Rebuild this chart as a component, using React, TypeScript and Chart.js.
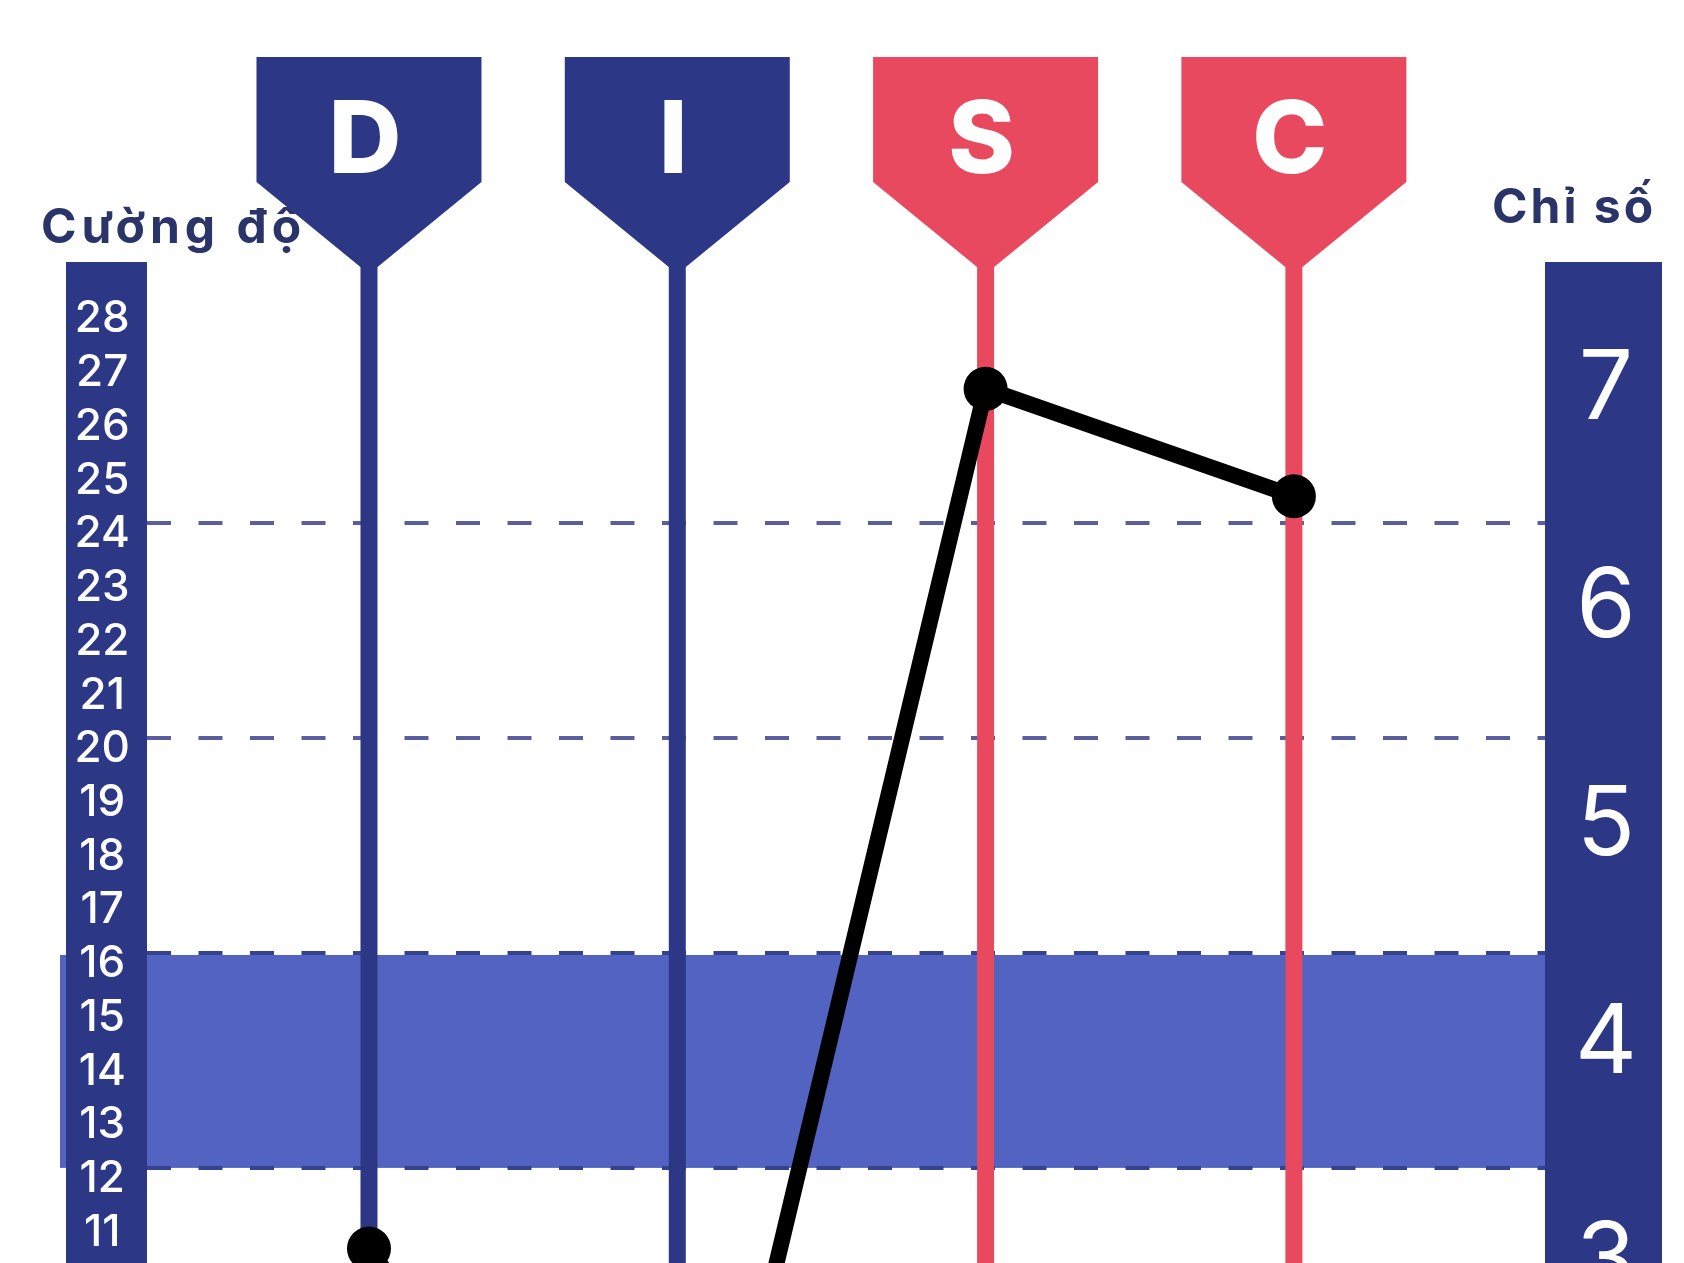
import React, { useEffect, useRef } from 'react';
import { Chart, registerables } from 'chart.js';

Chart.register(...registerables);

// ---------- data ----------
const categories = ['D', 'I', 'S', 'C'];
const intensityValues = [10.5, 2.5, 26.5, 24.5];
const categoryColors = ['#2c3886', '#2c3886', '#e9495f', '#e9495f'];
const leftTicks = [28, 27, 26, 25, 24, 23, 22, 21, 20, 19, 18, 17, 16, 15, 14, 13, 12, 11];
const rightTicks = [7, 6, 5, 4, 3];
const referenceLines = [24, 20];
const bandRange = [16, 12];
const leftTitle = 'Cường độ';
const rightTitle = 'Chỉ số';

// ---------- styles ----------
const NAVY = '#2c3886';
const BAND = '#5363c2';
const TITLE_COLOR = '#2a3468';
const REF_LINE_COLOR = '#5b5e9c';
const BAND_LINE_COLOR = '#34428f';
const FONT = 'Inter, "Open Sans", sans-serif';

const W = 1684;
const H = 1263;

const discPlugin = {
  id: 'discDecor',
  beforeDraw(chart: any) {
    const { ctx, chartArea } = chart;
    const yL = chart.scales.y;
    const yR = chart.scales.y2;
    ctx.save();
    const bt = yL.getPixelForValue(bandRange[0]);
    const bb = yL.getPixelForValue(bandRange[1]);
    ctx.fillStyle = BAND;
    ctx.fillRect(yL.left - 6, bt + 2, chartArea.right - (yL.left - 6), bb - bt - 2);
    ctx.fillStyle = NAVY;
    ctx.fillRect(yL.left, chartArea.top, yL.width, chartArea.bottom - chartArea.top);
    ctx.fillRect(yR.left, chartArea.top, yR.width, chartArea.bottom - chartArea.top);
    ctx.restore();
  },
  beforeDatasetsDraw(chart: any) {
    const { ctx, chartArea } = chart;
    const yL = chart.scales.y;
    const yR = chart.scales.y2;
    const x = chart.scales.x;
    ctx.save();
    // axis titles
    ctx.fillStyle = TITLE_COLOR;
    ctx.font = `700 48px ${FONT}`;
    ctx.textBaseline = 'alphabetic';
    ctx.textAlign = 'left';
    (ctx as any).letterSpacing = '5px';
    ctx.fillText(leftTitle, yL.left - 25, 243);
    (ctx as any).letterSpacing = '3px';
    ctx.textAlign = 'left';
    ctx.fillText(rightTitle, yR.right - 170, 223);
    (ctx as any).letterSpacing = '0px';

    const halfW = 112.5;
    const topY = 57;
    const shoulderY = 182;
    const apexY = 274;
    categories.forEach((cat, i) => {
      const cx = x.getPixelForValue(i);
      const color = categoryColors[i];
      // stem
      ctx.strokeStyle = color;
      ctx.lineWidth = 17;
      ctx.lineCap = 'butt';
      ctx.beginPath();
      ctx.moveTo(cx, apexY - 10);
      ctx.lineTo(cx, chartArea.bottom);
      ctx.stroke();
      // header shape
      ctx.fillStyle = color;
      ctx.beginPath();
      ctx.moveTo(cx - halfW, topY);
      ctx.lineTo(cx + halfW, topY);
      ctx.lineTo(cx + halfW, shoulderY);
      ctx.lineTo(cx, apexY);
      ctx.lineTo(cx - halfW, shoulderY);
      ctx.closePath();
      ctx.fill();
      // letter
      ctx.fillStyle = '#ffffff';
      ctx.font = `800 101px ${FONT}`;
      ctx.textAlign = 'center';
      ctx.textBaseline = 'alphabetic';
      ctx.fillText(cat, cx - 4, 173);
    });
    ctx.restore();
  },
};

export default function App() {
  const ref = useRef<HTMLCanvasElement | null>(null);

  useEffect(() => {
    document.body.style.margin = '0';
    document.body.style.overflow = 'hidden';
    const canvas = ref.current;
    if (!canvas) return;

    const gridColor = (c: any) => {
      const v = c.tick && c.tick.value;
      if (referenceLines.includes(v)) return REF_LINE_COLOR;
      if (bandRange.includes(v)) return BAND_LINE_COLOR;
      return 'rgba(0,0,0,0)';
    };

    const chart = new Chart(canvas, {
      type: 'line',
      data: {
        datasets: [
          {
            label: leftTitle,
            data: categories.map((_, i) => ({ x: i, y: intensityValues[i] })),
            borderColor: '#000000',
            borderWidth: 16,
            pointRadius: 22,
            pointHoverRadius: 22,
            pointBackgroundColor: '#000000',
            pointBorderColor: '#000000',
            pointBorderWidth: 0,
            tension: 0,
            xAxisID: 'x',
            yAxisID: 'y',
          },
        ],
      },
      options: {
        responsive: false,
        animation: false,
        events: [],
        elements: { line: { borderWidth: 16 } },
        layout: {
          autoPadding: false,
          padding: { top: 262, left: 66, right: 22, bottom: 0 },
        },
        plugins: {
          legend: { display: false },
          tooltip: { enabled: false },
        },
        scales: {
          x: {
            type: 'linear',
            display: false,
            min: -0.72,
            max: 3.8145,
          },
          y: {
            type: 'linear',
            position: 'left',
            min: 10.23,
            max: 28.86,
            afterBuildTicks: (s: any) => {
              s.ticks = leftTicks.map((value) => ({ value }));
            },
            afterFit: (s: any) => {
              s.width = 81;
              s.paddingTop = 0;
              s.paddingBottom = 0;
            },
            grid: {
              drawTicks: false,
              lineWidth: 4,
              color: gridColor,
            },
            border: { display: false, dash: [24, 27.5] },
            ticks: {
              color: '#ffffff',
              font: { family: FONT, size: 44, weight: '500' },
              crossAlign: 'center',
              padding: 17,
              labelOffset: 11,
              autoSkip: false,
            },
          },
          y2: {
            type: 'linear',
            position: 'right',
            min: 2.963,
            max: 7.555,
            afterBuildTicks: (s: any) => {
              s.ticks = rightTicks.map((value) => ({ value }));
            },
            afterFit: (s: any) => {
              s.width = 117;
              s.paddingTop = 0;
              s.paddingBottom = 0;
            },
            grid: { display: false, drawTicks: false },
            border: { display: false },
            ticks: {
              color: '#ffffff',
              font: { family: FONT, size: 96, weight: '400' },
              crossAlign: 'center',
              padding: 30,
              labelOffset: 7,
              autoSkip: false,
            },
          },
        },
      },
      plugins: [discPlugin],
    } as any);

    return () => chart.destroy();
  }, []);

  return (
    <div style={{ width: W, height: H, background: '#ffffff' }}>
      <canvas ref={ref} width={W} height={H} style={{ display: 'block' }} />
    </div>
  );
}
